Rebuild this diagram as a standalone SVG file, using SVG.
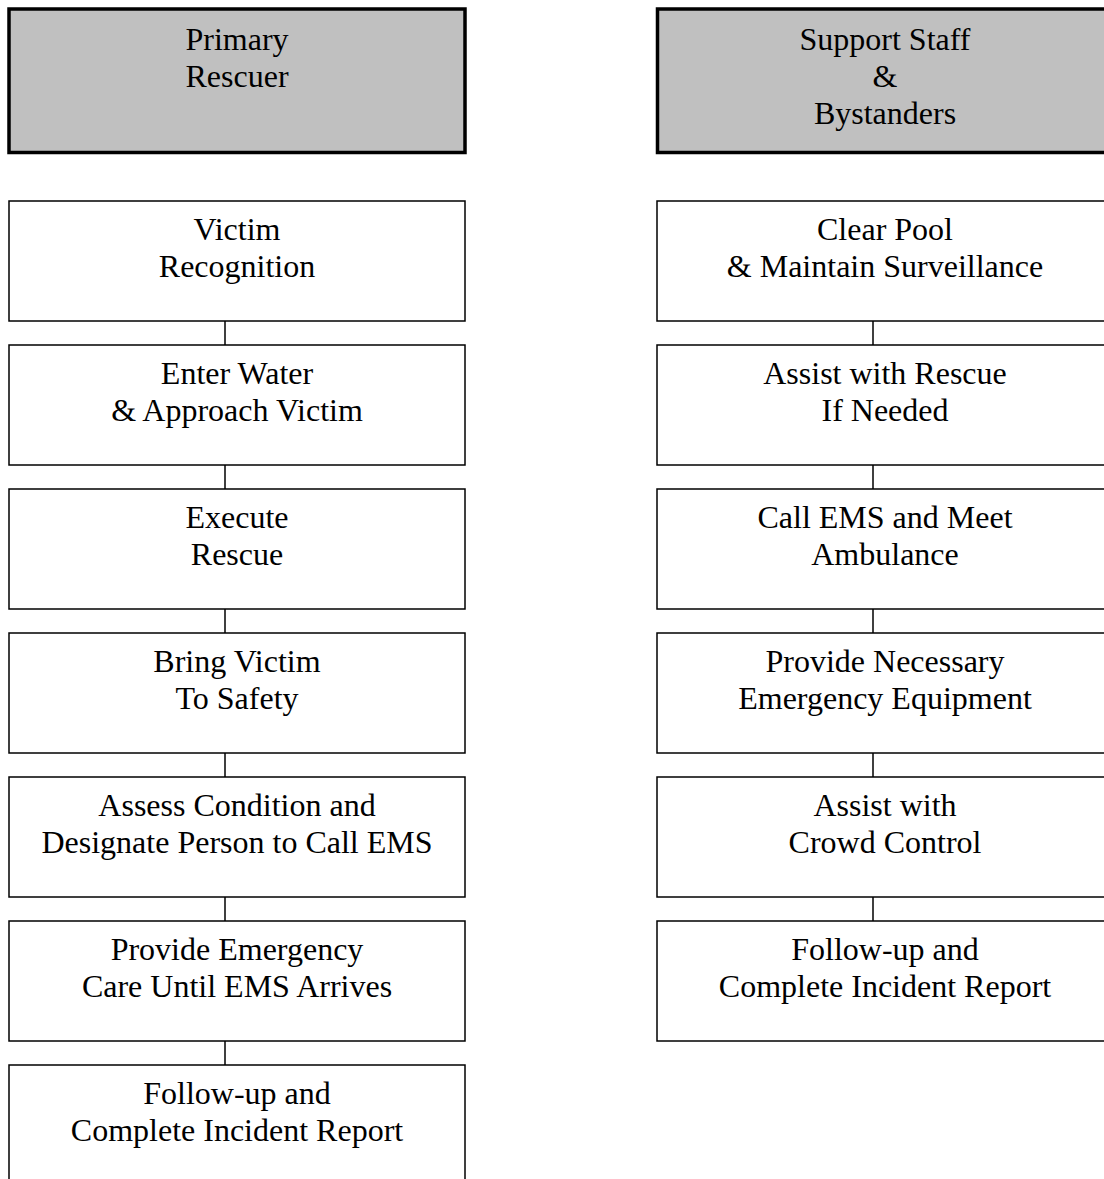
<svg xmlns="http://www.w3.org/2000/svg" width="1104" height="1179" viewBox="0 0 1104 1179">
<style>
.hdr{fill:#c0c0c0;stroke:#000;stroke-width:3.5}
.box{fill:#fff;stroke:#000;stroke-width:1.5}
.conn{stroke:#000;stroke-width:1.5;fill:none}
text{font-family:"Liberation Serif","Times New Roman",serif;font-size:32px;fill:#000;text-anchor:middle}
</style>
<rect width="1104" height="1179" fill="#fff"/>
<g id="connectors">
<line class="conn" x1="225" y1="321" x2="225" y2="345"/>
<line class="conn" x1="225" y1="465" x2="225" y2="489"/>
<line class="conn" x1="225" y1="609" x2="225" y2="633"/>
<line class="conn" x1="225" y1="753" x2="225" y2="777"/>
<line class="conn" x1="225" y1="897" x2="225" y2="921"/>
<line class="conn" x1="225" y1="1041" x2="225" y2="1065"/>
<line class="conn" x1="873" y1="321" x2="873" y2="345"/>
<line class="conn" x1="873" y1="465" x2="873" y2="489"/>
<line class="conn" x1="873" y1="609" x2="873" y2="633"/>
<line class="conn" x1="873" y1="753" x2="873" y2="777"/>
<line class="conn" x1="873" y1="897" x2="873" y2="921"/>
</g>
<g id="hdr-primary"><rect class="hdr" x="9" y="9" width="456" height="143.5"/><text x="237" y="50">Primary</text><text x="237" y="87">Rescuer</text></g>
<g id="hdr-support"><rect class="hdr" x="657.5" y="9" width="456" height="143.5"/><text x="885" y="50">Support Staff</text><text x="885" y="87">&amp;</text><text x="885" y="124">Bystanders</text></g>
<g id="l1"><rect class="box" x="9" y="201" width="456" height="120"/><text x="237" y="240">Victim</text><text x="237" y="277">Recognition</text></g>
<g id="l2"><rect class="box" x="9" y="345" width="456" height="120"/><text x="237" y="384">Enter Water</text><text x="237" y="421">&amp; Approach Victim</text></g>
<g id="l3"><rect class="box" x="9" y="489" width="456" height="120"/><text x="237" y="528">Execute</text><text x="237" y="565">Rescue</text></g>
<g id="l4"><rect class="box" x="9" y="633" width="456" height="120"/><text x="237" y="672">Bring Victim</text><text x="237" y="709">To Safety</text></g>
<g id="l5"><rect class="box" x="9" y="777" width="456" height="120"/><text x="237" y="816">Assess Condition and</text><text x="237" y="853">Designate Person to Call EMS</text></g>
<g id="l6"><rect class="box" x="9" y="921" width="456" height="120"/><text x="237" y="960">Provide Emergency</text><text x="237" y="997">Care Until EMS Arrives</text></g>
<g id="l7"><rect class="box" x="9" y="1065" width="456" height="120"/><text x="237" y="1104">Follow-up and</text><text x="237" y="1141">Complete Incident Report</text></g>
<g id="r1"><rect class="box" x="657" y="201" width="456" height="120"/><text x="885" y="240">Clear Pool</text><text x="885" y="277">&amp; Maintain Surveillance</text></g>
<g id="r2"><rect class="box" x="657" y="345" width="456" height="120"/><text x="885" y="384">Assist with Rescue</text><text x="885" y="421">If Needed</text></g>
<g id="r3"><rect class="box" x="657" y="489" width="456" height="120"/><text x="885" y="528">Call EMS and Meet</text><text x="885" y="565">Ambulance</text></g>
<g id="r4"><rect class="box" x="657" y="633" width="456" height="120"/><text x="885" y="672">Provide Necessary</text><text x="885" y="709">Emergency Equipment</text></g>
<g id="r5"><rect class="box" x="657" y="777" width="456" height="120"/><text x="885" y="816">Assist with</text><text x="885" y="853">Crowd Control</text></g>
<g id="r6"><rect class="box" x="657" y="921" width="456" height="120"/><text x="885" y="960">Follow-up and</text><text x="885" y="997">Complete Incident Report</text></g>
</svg>
